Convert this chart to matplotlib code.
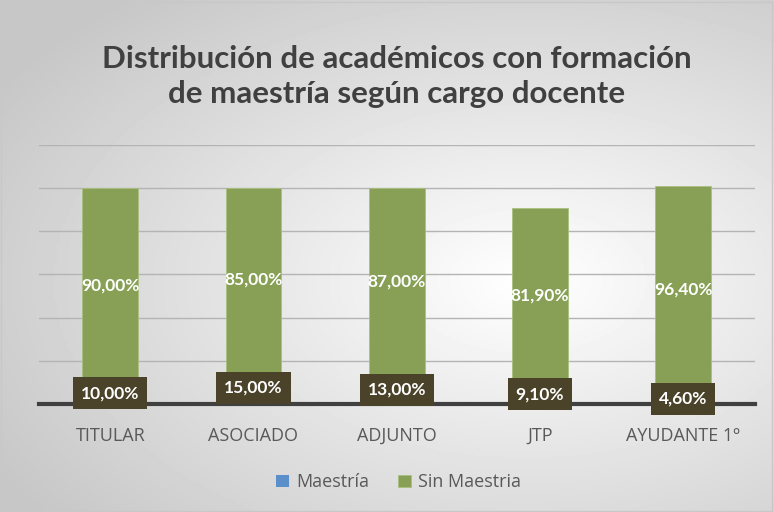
import numpy as np
import matplotlib.pyplot as plt

categorias = ["TITULAR", "ASOCIADO", "ADJUNTO", "JTP", "AYUDANTE 1º"]
maestria = [10.00, 15.00, 13.00, 9.10, 4.60]
sin_maestria = [90.00, 85.00, 87.00, 81.90, 96.40]

def fmt(v):
    return f"{v:.2f}".replace(".", ",") + "%"

plt.rcParams['font.family'] = ['Lato', 'DejaVu Sans']

fig = plt.figure(figsize=(7.74, 5.12), dpi=100)

# fondo con degradado radial
bg = fig.add_axes([0, 0, 1, 1], zorder=-10)
yy, xx = np.mgrid[0:1:256j, 0:1:256j]
r = np.sqrt(((xx - 0.68) / 1.0) ** 2 + ((yy - 0.45) / 0.9) ** 2)
bg.imshow(1 - 0.22 * np.clip(r / 0.8, 0, 1), cmap='gray', vmin=0, vmax=1,
          extent=[0, 1, 0, 1], aspect='auto', origin='lower')
bg.set_axis_off()
fig.patches.append(plt.Rectangle((0.001, 0.002), 0.997, 0.995, transform=fig.transFigure,
                                 fill=False, edgecolor='#c8c8c8', linewidth=1))

ax = fig.add_axes([0.050, 0.211, 0.925, 0.506])
ax.patch.set_alpha(0)
x = np.arange(len(categorias))
w = 0.39
ax.bar(x, maestria, w, color='#5B8FC9', label='Maestría', zorder=2)
ax.bar(x, sin_maestria, w, bottom=maestria, color='#87A055', label='Sin Maestria',
       zorder=2, edgecolor='#a9c07e', linewidth=0.6)

ax.set_ylim(0, 120)
ax.set_xlim(-0.5, len(categorias) - 0.5)
ax.set_yticks(np.arange(0, 121, 20))
ax.yaxis.grid(True, color='#b4b4b4', linewidth=1.0, zorder=0)
ax.set_axisbelow(True)
ax.tick_params(axis='y', left=False, labelleft=False)
ax.tick_params(axis='x', bottom=False, labelsize=13, labelcolor='#595959', pad=13)
ax.set_xticks(x)
ax.set_xticklabels(categorias, family=['Open Sans', 'DejaVu Sans'])
for s in ['top', 'right', 'left']:
    ax.spines[s].set_visible(False)
ax.spines['bottom'].set_color('#404040')
ax.spines['bottom'].set_linewidth(3)
ax.spines['bottom'].set_zorder(3)

for i in range(len(categorias)):
    ax.text(x[i], maestria[i] / 2, fmt(maestria[i]), ha='center', va='center',
            color='white', fontsize=12.5, fontweight='bold', zorder=5,
            bbox=dict(boxstyle='square,pad=0.45', facecolor='#4A4229', edgecolor='none'))
    ax.text(x[i], maestria[i] + sin_maestria[i] / 2, fmt(sin_maestria[i]), ha='center',
            va='center', color='white', fontsize=12.5, fontweight='bold', zorder=5)

fig.text(0.513, 0.85, "Distribución de académicos con formación\nde maestría según cargo docente",
         ha='center', va='center', fontsize=22.5, fontweight='bold', color='#404040',
         linespacing=1.3)

h, l = ax.get_legend_handles_labels()
fig.legend(h, l, loc='center', bbox_to_anchor=(0.515, 0.058), ncol=2, frameon=False,
           handlelength=0.7, handleheight=0.7, handletextpad=0.4,
           columnspacing=1.6, labelcolor='#595959', prop={'family': ['Open Sans', 'DejaVu Sans'], 'size': 13})

fig.savefig('out.png', dpi=100)
